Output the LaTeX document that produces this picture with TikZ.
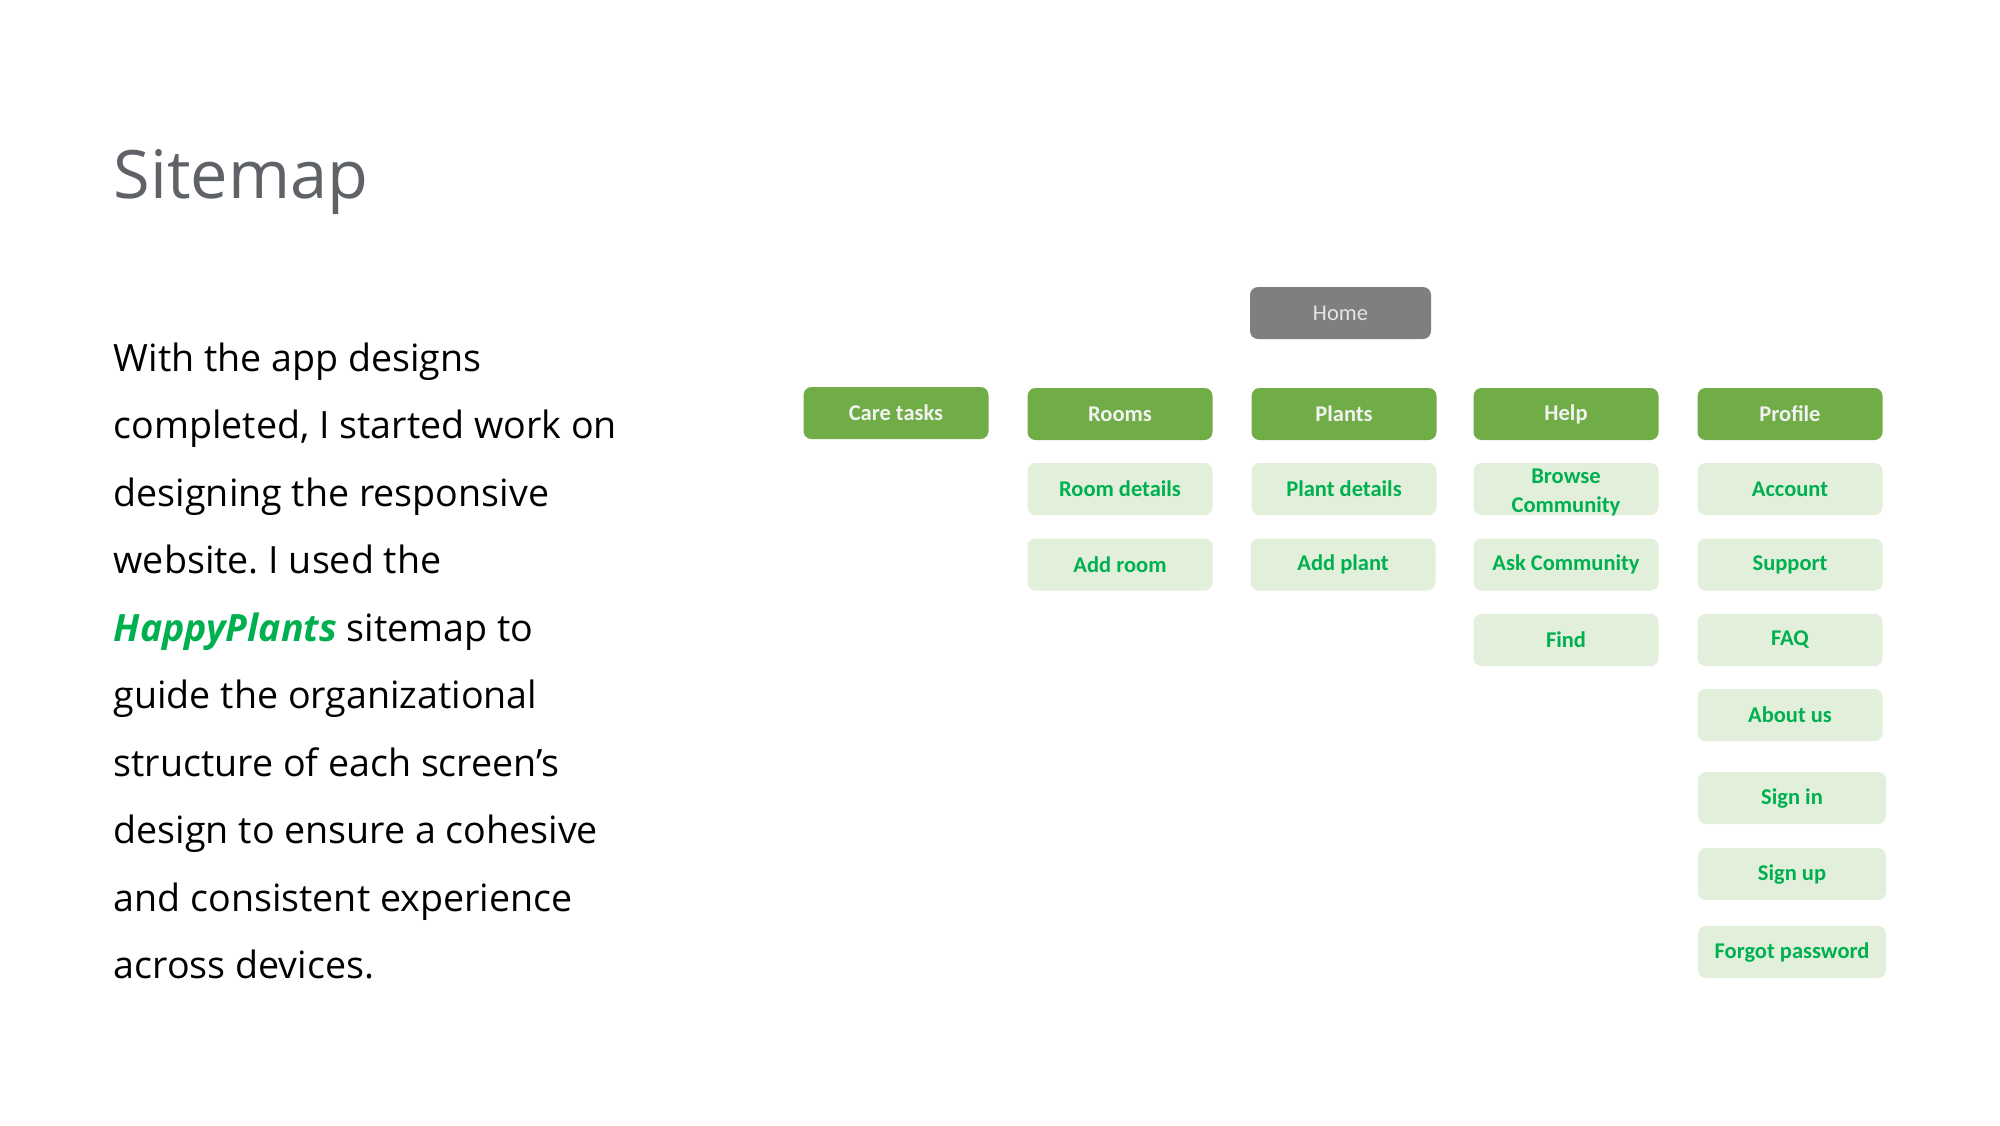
\documentclass[tikz,border=0pt]{standalone}
\usepackage{fontspec}
\setmainfont{Open Sans}
\newfontfamily\boxfont{Carlito}
\definecolor{maingreen}{HTML}{70AD47}
\definecolor{lightgreen}{HTML}{E2EFDA}
\definecolor{textgreen}{HTML}{00B050}
\definecolor{homegray}{HTML}{7F7F7F}
\definecolor{titlegray}{HTML}{5F6368}
\frenchspacing
\begin{document}
\begin{tikzpicture}[x=1cm,y=1cm,
 box/.style={rounded corners=0.08cm, minimum width=1.85cm, minimum height=0.52cm, inner sep=0pt, align=center, font=\boxfont\bfseries\fontsize{6.4pt}{8pt}\selectfont},
 topbox/.style={box, fill=maingreen, text=white!95!black},
 subbox/.style={box, fill=lightgreen, text=textgreen},
 homebox/.style={box, fill=homegray, text=white!90!black, font=\boxfont\fontsize{6.4pt}{8pt}\selectfont, minimum width=1.81cm},
 bodyline/.style={anchor=base west, inner sep=0pt, font=\fontsize{10.7pt}{19.2pt}\selectfont}
]
\useasboundingbox[fill=white] (0,0) rectangle (20,-11.25);

% title
\node[anchor=base west, inner sep=0pt, text=titlegray, font=\fontsize{19pt}{22pt}\selectfont] (title) at (1.13,-1.98) {Sitemap};

% body text
\node[bodyline] (l1) at (1.13,-3.71) {With the app designs};
\node[bodyline] (l2) at (1.13,-4.385) {completed, I started work on};
\node[bodyline] (l3) at (1.13,-5.06) {designing the responsive};
\node[bodyline] (l4) at (1.13,-5.735) {website. I used the};
\node[bodyline] (l5) at (1.13,-6.41) {{\color{textgreen}\bfseries\itshape HappyPlants} sitemap to};
\node[bodyline] (l6) at (1.13,-7.085) {guide the organizational};
\node[bodyline] (l7) at (1.13,-7.76) {structure of each screen’s};
\node[bodyline] (l8) at (1.13,-8.435) {design to ensure a cohesive};
\node[bodyline] (l9) at (1.13,-9.11) {and consistent experience};
\node[bodyline] (l10) at (1.13,-9.785) {across devices.};

% sitemap
\node[homebox] (home) at (13.405,-3.13) {Home};

\node[topbox] (care) at (8.96,-4.13) {Care tasks};
\node[topbox] (rooms) at (11.20,-4.14) {Rooms};
\node[topbox] (plants) at (13.44,-4.14) {Plants};
\node[topbox] (help) at (15.66,-4.14) {Help};
\node[topbox] (profile) at (17.90,-4.14) {Profile};

\node[subbox] (roomdet) at (11.20,-4.89) {Room details};
\node[subbox] (addroom) at (11.20,-5.645) {Add room};

\node[subbox] (plantdet) at (13.44,-4.89) {Plant details};
\node[subbox] (addplant) at (13.43,-5.645) {Add plant};

\node[subbox] (browse) at (15.66,-4.89) {\parbox[c][0.52cm][c]{1.8cm}{\vspace*{0.07cm}\centering Browse\\Community}};
\node[subbox] (ask) at (15.66,-5.645) {Ask Community};
\node[subbox] (find) at (15.66,-6.40) {Find};

\node[subbox] (account) at (17.90,-4.89) {Account};
\node[subbox] (support) at (17.90,-5.645) {Support};
\node[subbox] (faq) at (17.90,-6.40) {FAQ};
\node[subbox] (about) at (17.90,-7.15) {About us};
\node[subbox, minimum width=1.88cm] (signin) at (17.92,-7.98) {Sign in};
\node[subbox, minimum width=1.88cm] (signup) at (17.92,-8.74) {Sign up};
\node[subbox, minimum width=1.88cm] (forgot) at (17.92,-9.52) {Forgot password};
\end{tikzpicture}
\end{document}
